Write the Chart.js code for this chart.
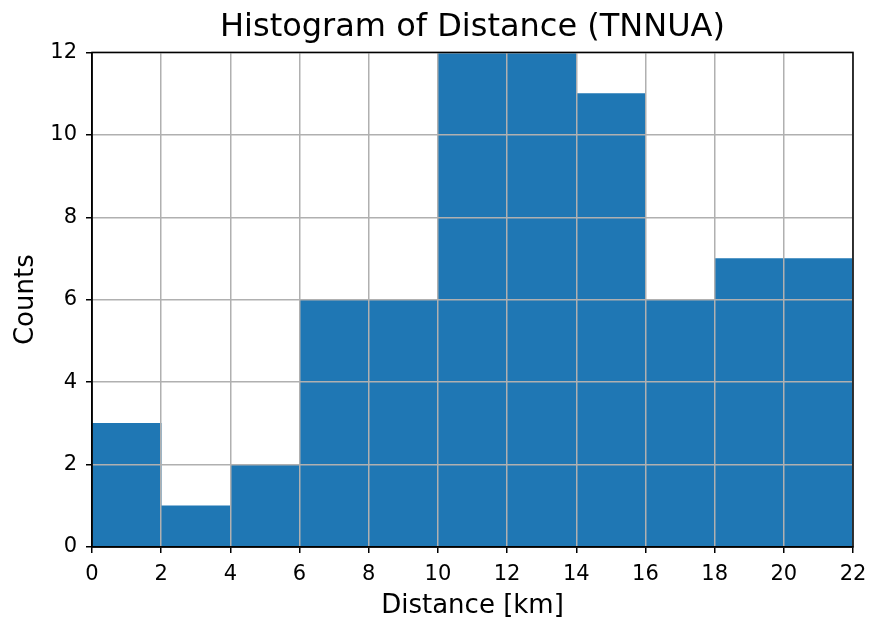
<!DOCTYPE html>
<html>
<head>
<meta charset="utf-8">
<script src="https://cdn.jsdelivr.net/npm/chart.js@4"></script>
<style>
  html, body { margin: 0; padding: 0; background: #fff; }
  #wrap { width: 870px; height: 624px; }
</style>
</head>
<body>
<div id="wrap"><canvas id="hist" width="870" height="624"></canvas></div>
<script>
// bin centres (bins are 2 km wide, 0..22 km) and counts per bin
const binCenters = [1, 3, 5, 7, 9, 11, 13, 15, 17, 19, 21];
const counts = [3, 1, 2, 6, 6, 12, 12, 11, 6, 7, 7];
const xTicks = [0, 2, 4, 6, 8, 10, 12, 14, 16, 18, 20, 22];
const yTicks = [0, 2, 4, 6, 8, 10, 12];

const font = "'DejaVu Sans', sans-serif";

// black frame around the plot area
const frame = {
  id: 'frame',
  afterDraw(chart) {
    const { ctx, chartArea: a } = chart;
    ctx.save();
    ctx.strokeStyle = '#000';
    ctx.lineWidth = 1.5;
    ctx.strokeRect(a.left, a.top, a.right - a.left, a.bottom - a.top);
    ctx.restore();
  }
};

new Chart(document.getElementById('hist'), {
  type: 'bar',
  data: {
    datasets: [{
      data: binCenters.map((x, i) => ({ x: x, y: counts[i] })),
      backgroundColor: '#1f77b4',
      borderWidth: 0,
      barPercentage: 1,
      categoryPercentage: 1
    }]
  },
  options: {
    responsive: false,
    animation: false,
    layout: { padding: { top: 0, right: 17, left: 0, bottom: 0 } },
    plugins: {
      legend: { display: false },
      tooltip: { enabled: false },
      title: {
        display: true,
        fullSize: false,
        text: 'Histogram of Distance (TNNUA)',
        color: '#000',
        font: { family: font, size: 32, weight: 'normal' },
        padding: { top: 8, bottom: 6 }
      }
    },
    scales: {
      x: {
        type: 'linear',
        min: 0,
        max: 22,
        offset: false,
        afterBuildTicks: s => { s.ticks = xTicks.map(v => ({ value: v })); },
        afterFit: s => { s.height = 77; s.paddingRight = 17; s.paddingLeft = 0; },
        grid: { offset: false, z: 1, color: '#b0b0b0', lineWidth: 1.5, tickColor: '#000', tickLength: 6 },
        border: { color: '#000', width: 1.5, z: 2 },
        ticks: { color: '#000', font: { family: font, size: 21 }, padding: 9, maxRotation: 0 },
        title: {
          display: true,
          text: 'Distance [km]',
          color: '#000',
          font: { family: font, size: 26 },
          padding: { top: 2, bottom: 2 }
        }
      },
      y: {
        min: 0,
        max: 12,
        afterBuildTicks: s => { s.ticks = yTicks.map(v => ({ value: v })); },
        afterFit: s => { s.width = 92; },
        grid: { z: 1, color: '#b0b0b0', lineWidth: 1.5, tickColor: '#000', tickLength: 6 },
        border: { color: '#000', width: 1.5, z: 2 },
        ticks: { color: '#000', font: { family: font, size: 21 }, padding: 9 },
        title: {
          display: true,
          text: 'Counts',
          color: '#000',
          font: { family: font, size: 26 },
          padding: { top: 11 }
        }
      }
    }
  },
  plugins: [frame]
});
</script>
</body>
</html>
